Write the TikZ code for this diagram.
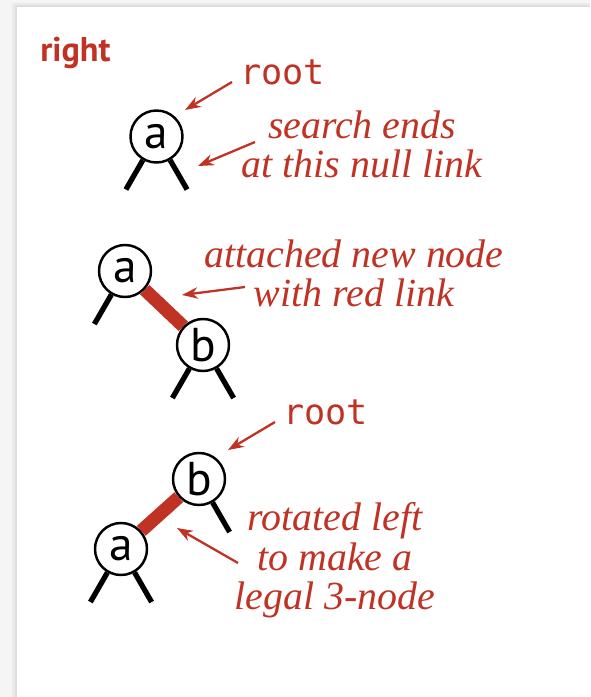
\documentclass[tikz,border=0pt]{standalone}
\usepackage{fontspec}
\setmainfont{Liberation Serif}
\newfontfamily\labelfont{PT Sans}
\newfontfamily\codefont{DejaVu Sans Mono}
\usetikzlibrary{arrows.meta}

\begin{document}
\begin{tikzpicture}[
        treenode/.style={circle, draw, line width=1.4pt, fill=white, minimum size=1.04cm, inner sep=0pt, font=\labelfont\fontsize{27}{27}\selectfont},
        nulllink/.style={line width=3pt},
        redlink/.style={draw=linkred, line width=7.5pt},
        pointer/.style={draw=linkred, line width=1.3pt, -{Stealth[length=9pt, width=6.5pt]}},
        remark/.style={text=linkred, align=center, anchor=base, inner sep=0pt, font=\itshape\fontsize{22.7}{22.7}\selectfont},
        rootlabel/.style={text=linkred, anchor=base west, inner sep=0pt, font=\codefont\fontsize{20}{20}\selectfont}
    ]
        \definecolor{linkred}{RGB}{192,50,36}

        % page with its shadow
        \fill[gray!8] (0, 0) rectangle (11.8, 13.94);
        \fill[gray!16] (0.24, 0) rectangle (11.8, 13.88);
        \fill[gray!26] (0.3, 0) rectangle (11.8, 13.84);
        \fill[white] (0.34, 0) rectangle (11.8, 13.8);

        \node at (0.80, 12.70) [anchor=base west, inner sep=0pt, text=linkred, font=\labelfont\bfseries\fontsize{19.5}{19.5}\selectfont] (title) {right};

        % search reaches the null link
        \node at (3.13, 11.21) [treenode] (a1) {a};
        \draw[nulllink] (a1.240) -- ++(240:0.68);
        \draw[nulllink] (a1.300) -- ++(300:0.68);
        \node at (4.80, 12.24) [rootlabel] (root1) {root};
        \coordinate (root1tail) at (4.64, 12.30);
        \coordinate (root1tip) at (3.70, 11.74);
        \draw[pointer] (root1tail) -- (root1tip);
        % base is the last line
        \node at (7.24, 10.38) [remark] (search) {search ends\\at this null link};
        \coordinate (searchtail) at (5.10, 11.10);
        \coordinate (searchtip) at (3.96, 10.62);
        \draw[pointer] (searchtail) -- (searchtip);

        % new node hung on a red link
        \node at (2.50, 8.52) [treenode] (a2) {a};
        \node at (4.06, 7.04) [treenode] (b2) {b};
        \draw[redlink] (a2) -- (b2);
        \draw[nulllink] (a2.240) -- ++(240:0.68);
        \draw[nulllink] (b2.240) -- ++(240:0.68);
        \draw[nulllink] (b2.300) -- ++(300:0.68);
        \node at (7.08, 7.80) [remark] (attached) {attached new node\\with red link};
        \coordinate (attachedtail) at (4.90, 8.20);
        \coordinate (attachedtip) at (3.64, 8.04);
        \draw[pointer] (attachedtail) -- (attachedtip);

        % after the left rotation
        \node at (3.98, 4.36) [treenode] (b3) {b};
        \node at (2.42, 2.96) [treenode] (a3) {a};
        \draw[redlink] (a3) -- (b3);
        \draw[nulllink] (b3.300) -- ++(300:0.68);
        \draw[nulllink] (a3.240) -- ++(240:0.68);
        \draw[nulllink] (a3.300) -- ++(300:0.68);
        \node at (5.66, 5.44) [rootlabel] (root3) {root};
        \coordinate (root3tail) at (5.50, 5.50);
        \coordinate (root3tip) at (4.56, 4.94);
        \draw[pointer] (root3tail) -- (root3tip);
        \node at (6.70, 1.74) [remark] (rotated) {rotated left\\to make a\\legal 3-node};
        \coordinate (rotatedtail) at (4.76, 2.68);
        \coordinate (rotatedtip) at (3.54, 3.38);
        \draw[pointer] (rotatedtail) -- (rotatedtip);
    \end{tikzpicture}
\end{document}
